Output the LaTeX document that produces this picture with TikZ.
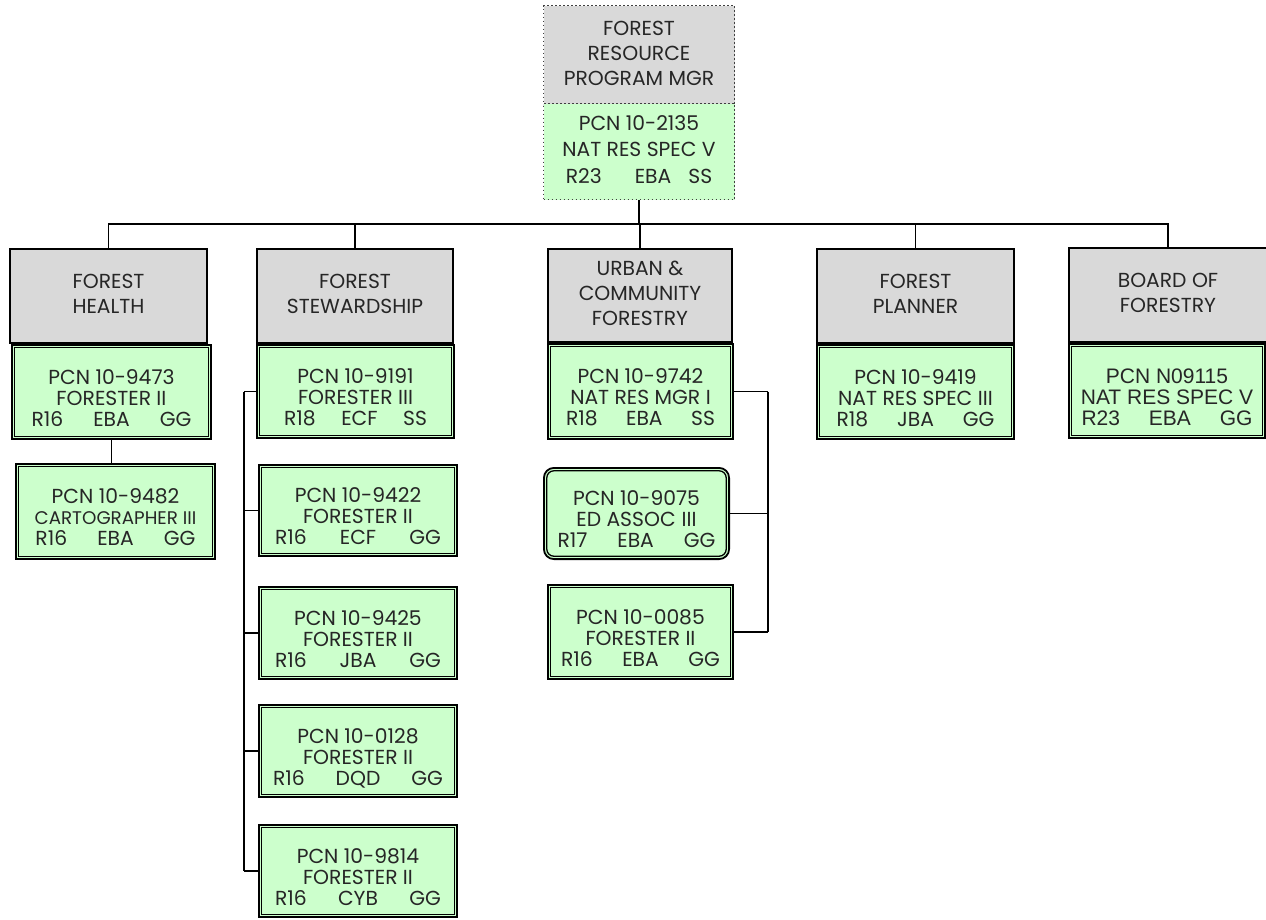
\documentclass[tikz,border=0pt]{standalone}
\usepackage{fontspec}
\setmainfont{Poppins}
\newfontfamily\arialfont{Liberation Sans}
\usetikzlibrary{backgrounds,calc}
\definecolor{hdrgray}{HTML}{D9D9D9}
\definecolor{posgreen}{HTML}{CCFFCC}
\definecolor{txt}{HTML}{262626}
\newcommand\tx[1]{\raisebox{-9pt}[\height][\depth]{\begin{tabular}{@{}c@{}}#1\end{tabular}}}
\newcommand\hx[1]{\begin{tabular}{@{}c@{}}#1\end{tabular}}
\newcommand\trio[4]{\makebox[#1]{#2\hfill #3\hfill #4}}
\tikzset{
  hdr/.style={draw=black, line width=1.6pt, fill=hdrgray, inner sep=0pt, text=txt,
    font=\fontsize{20.3}{25}\selectfont, minimum height=94.4pt},
  posbox/.style={draw=black, line width=1.8pt, fill=posgreen, inner sep=0pt, text=txt,
    font=\fontsize{20.3}{21}\selectfont},
  innerline/.style={draw=black, line width=1.3pt},
  topbox/.style={draw=black!75, line width=1pt, dash pattern=on 1.2pt off 2.8pt,
    inner sep=0pt, text=txt, font=\fontsize{20.3}{25}\selectfont, minimum width=191pt},
  link/.style={draw=black, line width=1.5pt},
}
\begin{document}
\begin{tikzpicture}[x=1pt,y=-1pt]
\clip (0,0) rectangle (1266,919);

% top
\node[topbox, fill=hdrgray, minimum height=99pt] (tg) at (639,55)
  {\hx{FOREST\\RESOURCE\\PROGRAM MGR}};
\node[topbox, fill=posgreen, minimum height=96pt] (tp) at (639,151.5)
  {\fontsize{20.3}{26.5}\selectfont\hx{PCN 10-2135\\NAT RES SPEC V\\R23\hspace{33pt}EBA\hspace{17pt}SS}};

% forest health
\node[hdr, minimum width=197.4pt] (hg) at (108.5,296) {\hx{FOREST\\HEALTH}};
\node[posbox, minimum width=199.2pt, minimum height=94.2pt] (h1) at (111.5,392)
  {\tx{PCN 10-9473\\FORESTER II\\\trio{160pt}{R16}{EBA}{GG}}};
\node[posbox, minimum width=199.2pt, minimum height=95.2pt] (h2) at (115.5,511.5)
  {\tx{PCN 10-9482\\{\fontsize{18.3}{21}\selectfont CARTOGRAPHER III}\\\trio{160pt}{R16}{EBA}{GG}}};

% forest stewardship
\node[hdr, minimum width=196.4pt] (sg) at (355,296) {\hx{FOREST\\STEWARDSHIP}};
\node[posbox, minimum width=197.2pt, minimum height=93.2pt] (s1) at (355.5,391.5)
  {\tx{PCN 10-9191\\FORESTER III\\\trio{143pt}{R18}{ECF}{SS}}};
\node[posbox, minimum width=198.2pt, minimum height=91.2pt] (s2) at (358,510.5)
  {\tx{PCN 10-9422\\FORESTER II\\\trio{166pt}{R16}{ECF}{GG}}};
\node[posbox, minimum width=198.2pt, minimum height=92.2pt] (s3) at (358,633)
  {\tx{PCN 10-9425\\FORESTER II\\\trio{166pt}{R16}{JBA}{GG}}};
\node[posbox, minimum width=198.2pt, minimum height=92.2pt] (s4) at (358,751)
  {\tx{PCN 10-0128\\FORESTER II\\\trio{170pt}{R16}{DQD}{GG}}};
\node[posbox, minimum width=198.2pt, minimum height=92.2pt] (s5) at (358,871)
  {\tx{PCN 10-9814\\FORESTER II\\\trio{166pt}{R16}{CYB}{GG}}};

% urban & community forestry
\node[hdr, minimum width=184.4pt, minimum height=93.4pt] (ug) at (640,295.5)
  {\hx{URBAN \&\\COMMUNITY\\FORESTRY}};
\node[posbox, minimum width=185.2pt, minimum height=95.2pt] (u1) at (640.5,391.5)
  {\tx{PCN 10-9742\\NAT RES MGR I\\\trio{149pt}{R18}{EBA}{SS}}};
\node[posbox, rounded corners=10pt, minimum width=185.2pt, minimum height=91.2pt] (u2) at (636.5,513.5)
  {\tx{PCN 10-9075\\ED ASSOC\hspace{6pt}III\\\trio{158pt}{R17}{EBA}{GG}}};
\node[posbox, minimum width=185.2pt, minimum height=94.2pt] (u3) at (640.5,632)
  {\tx{PCN 10-0085\\FORESTER II\\\trio{159pt}{R16}{EBA}{GG}}};

% forest planner
\node[hdr, minimum width=197.4pt] (pg) at (915.5,296) {\hx{FOREST\\PLANNER}};
\node[posbox, minimum width=197.2pt, minimum height=94.2pt] (p1) at (915.5,392)
  {\tx{PCN 10-9419\\NAT RES SPEC III\\\trio{158pt}{R18}{JBA}{GG}}};

% board of forestry
\node[hdr, minimum width=198.4pt] (bg) at (1168,295) {\hx{BOARD OF\\FORESTRY}};
\node[posbox, minimum width=196.2pt, minimum height=94.2pt, font=\arialfont\fontsize{21}{21}\selectfont] (b1) at (1167,391)
  {\tx{PCN N09115\\NAT RES SPEC V\\\trio{171pt}{R23}{EBA}{GG}}};

% inner lines of the double borders
\foreach \n in {h1,h2,s1,s2,s3,s4,s5,u1,u3,p1,b1}
  \draw[innerline] ([shift={(3.8pt,-3.8pt)}]\n.north west) rectangle ([shift={(-3.8pt,3.8pt)}]\n.south east);
\draw[innerline, rounded corners=7pt] ([shift={(3.8pt,-3.8pt)}]u2.north west) rectangle ([shift={(-3.8pt,3.8pt)}]u2.south east);

% connectors
\begin{scope}[on background layer]
\fill[white] (0,0) rectangle (1266,919);
\coordinate (busy) at (0,224);
\coordinate (sx) at (244,0);
\coordinate (ux) at (768,0);
\draw[link] (tp.south) -- (tp.south |- busy);
\draw[link] (hg.north) -- (hg.north |- busy) -- (bg.north |- busy) -- (bg.north);
\draw[link] (sg.north) -- (sg.north |- busy);
\draw[link] (ug.north) -- (ug.north |- busy);
\draw[link] (pg.north) -- (pg.north |- busy);
\draw[link] (h1.south) -- (h1.south |- h2.north);
\draw[link] (s1.west -| sx) -- (s5.west -| sx);
\foreach \n in {s1,s2,s3,s4,s5} \draw[link] (\n.west) -- (\n.west -| sx);
\draw[link] (u1.east -| ux) -- (u3.east -| ux);
\foreach \n in {u1,u2,u3} \draw[link] (\n.east) -- (\n.east -| ux);
\end{scope}
\end{tikzpicture}
\end{document}
